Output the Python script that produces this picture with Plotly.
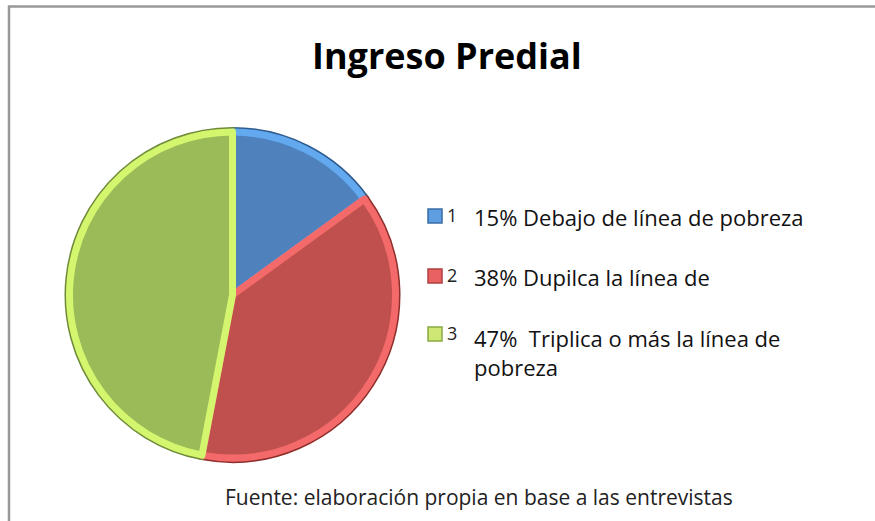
import plotly.graph_objects as go

W, H = 875, 521

title_text = "Ingreso Predial"
labels = ["1", "2", "3"]
values = [15, 38, 47]
legend_texts = [
    "15% Debajo de línea de pobreza",
    "38% Dupilca la línea de",
    "47%\u00a0\u00a0Triplica o más la línea de<br>pobreza",
]
source_text = "Fuente: elaboración propia en base a las entrevistas"

fill_colors = ["#4f81bd", "#c0504d", "#9bbb59"]
light_colors = ["#63a9f0", "#f46a6a", "#d4f66e"]
dark_colors = ["#2f5c8f", "#8e2f2c", "#6f8a38"]
swatch_fill = ["#5d9ee0", "#e86262", "#cfe774"]
swatch_line = ["#3a6ea5", "#b04040", "#8aa843"]

def px(x):
    return x / W

def py(y):
    return 1 - y / H

fig = go.Figure()

dom = dict(x=[px(69.5), px(395.5)], y=[py(458), py(132)])

# dark rim underneath
fig.add_trace(go.Pie(
    labels=labels, values=values, sort=False, direction="clockwise", rotation=0,
    domain=dom, textinfo="none", hoverinfo="skip", showlegend=False,
    marker=dict(colors=dark_colors, line=dict(color=dark_colors, width=10)),
))
fig.add_trace(go.Pie(
    labels=labels, values=values, sort=False, direction="clockwise", rotation=0,
    domain=dom, textinfo="none", showlegend=False,
    marker=dict(colors=fill_colors, line=dict(color=light_colors, width=7)),
))

shapes = [
    dict(type="rect", xref="paper", yref="paper", x0=px(9), x1=px(900), y0=py(560), y1=py(6.5),
         line=dict(color="#999999", width=2.5), fillcolor="rgba(0,0,0,0)", layer="below"),
]
annotations = [
    dict(text="<b>" + title_text + "</b>", x=px(447), y=py(56), xref="paper", yref="paper",
         showarrow=False, xanchor="center", yanchor="middle",
         font=dict(family="Open Sans", size=36, color="#000000")),
    dict(text=source_text, x=px(479), y=py(497), xref="paper", yref="paper",
         showarrow=False, xanchor="center", yanchor="middle",
         font=dict(family="Open Sans", size=21, color="#222222")),
]

ys = [216, 276, 334]
for i in range(3):
    yc = ys[i]
    shapes.append(dict(type="rect", xref="paper", yref="paper",
                       x0=px(428), x1=px(442), y0=py(yc + 7), y1=py(yc - 7),
                       fillcolor=swatch_fill[i], line=dict(color=swatch_line[i], width=1.5)))
    annotations.append(dict(text=labels[i], x=px(445), y=py(yc - 1), xref="paper", yref="paper",
                            showarrow=False, xanchor="left", yanchor="middle",
                            font=dict(family="Open Sans", size=18, color="#222222")))
    if i < 2:
        annotations.append(dict(text=legend_texts[i], x=px(472), y=py(yc + 1), xref="paper",
                                yref="paper", showarrow=False, xanchor="left", yanchor="middle",
                                align="left",
                                font=dict(family="Open Sans", size=22, color="#111111")))
    else:
        annotations.append(dict(text=legend_texts[i], x=px(472), y=py(321), xref="paper",
                                yref="paper", showarrow=False, xanchor="left", yanchor="top",
                                align="left",
                                font=dict(family="Open Sans", size=22, color="#111111")))

fig.update_layout(
    width=W, height=H,
    margin=dict(l=0, r=0, t=0, b=0),
    paper_bgcolor="white", plot_bgcolor="white",
    showlegend=False,
    shapes=shapes, annotations=annotations,
)

fig.write_html("out.html", config={"displayModeBar": False},
               post_script="document.body.style.margin='0';")
